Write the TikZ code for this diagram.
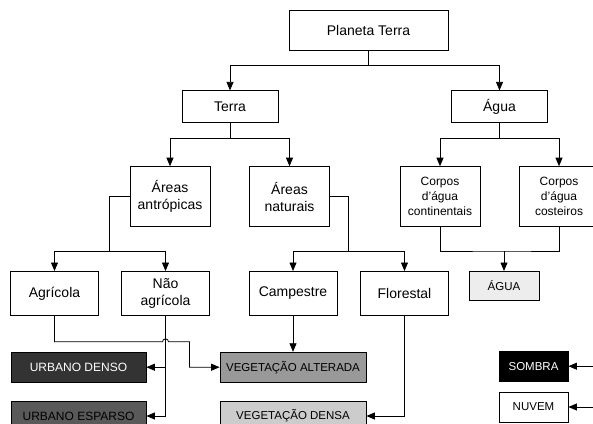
\documentclass[tikz,border=0pt]{standalone}
\usepackage{fontspec}
\setmainfont{Liberation Sans}
\usetikzlibrary{positioning}
\usetikzlibrary{arrows.meta}
\usetikzlibrary{calc}
\tikzset{%
	% Specifications for style of nodes:
	base/.style = {rectangle, draw=black, line width=0.8pt, fill=white,
		inner sep=2pt, align=center,
		text centered, font=\fontsize{14pt}{17pt}\selectfont},
	level/.style = {base, minimum width=96pt, minimum height=32pt},
	group/.style = {base, minimum width=80pt, minimum height=60pt},
	water/.style = {group, font=\fontsize{12pt}{15pt}\selectfont},
	leaf/.style = {base, minimum width=88pt, minimum height=44pt},
	classe/.style = {base, minimum height=30pt, font=\fontsize{11.5pt}{14pt}\selectfont},
	urbano/.style = {classe, minimum width=135pt, font=\fontsize{12pt}{14pt}\selectfont},
	% Specifications for style of connectors:
	wire/.style = {line width=0.8pt},
	link/.style = {wire, -{Triangle[length=8.5pt, width=7pt]}}
}

\begin{document}
\begin{tikzpicture}
		\useasboundingbox (0,0) rectangle (593pt,-423pt);
		\node (planeta) [base, minimum width=159pt, minimum height=40pt] at (368.5pt,-30pt) {Planeta Terra};
		\node (terra) [level, below=40pt of planeta, xshift=-138.5pt] {Terra};
		\node (agua) [level, below=40pt of planeta, xshift=131pt] {Água};
		\draw[link] (planeta.south) -- ++(0,-15pt) -| (terra.north);
		\draw[link] (planeta.south) -- ++(0,-15pt) -| (agua.north);
		
		\node (antropicas) [group, below=43pt of terra, xshift=-60pt] {Áreas\\antrópicas};
		\node (naturais) [group, below=43pt of terra, xshift=59.5pt] {Áreas\\naturais};
		\node (continentais) [water, below=43pt of agua, xshift=-59.5pt] {Corpos\\d'água\\continentais};
		\node (costeiros) [water, below=43pt of agua, xshift=59.5pt] {Corpos\\d'água\\costeiros};
		\draw[link] (terra.south) -- ++(0,-15pt) -| (antropicas.north);
		\draw[link] (terra.south) -- ++(0,-15pt) -| (naturais.north);
		\draw[link] (agua.south) -- ++(0,-15pt) -| (continentais.north);
		\draw[link] (agua.south) -- ++(0,-15pt) -| (costeiros.north);
		
		\node (agricola) [leaf, below=44pt of antropicas, xshift=-115.5pt] {Agrícola};
		\node (naoAgricola) [leaf, below=44pt of antropicas, xshift=-4.5pt] {Não\\agrícola};
		\node (campestre) [leaf, below=44pt of naturais, xshift=3.5pt] {Campestre};
		\node (florestal) [leaf, below=44pt of naturais, xshift=115pt] {Florestal};
		\node (aguaClasse) [classe, fill=black!7, minimum width=70pt, minimum height=29pt, below=44pt of continentais, xshift=64pt] {ÁGUA};
		
		\path let
			\p1 = (antropicas.west),
			\p2 = (agricola.north)
		in
			coordinate (antropicasBus) at (\x1 - 20pt, \y2 + 20pt);
		\draw[wire] (antropicas.west) -| (antropicasBus);
		\draw[link] (antropicasBus) -| (agricola.north);
		\draw[link] (antropicasBus) -| (naoAgricola.north);
		\path let
			\p1 = (naturais.east),
			\p2 = (campestre.north)
		in
			coordinate (naturaisBus) at (\x1 + 18.5pt, \y2 + 20pt);
		\draw[wire] (naturais.east) -| (naturaisBus);
		\draw[link] (naturaisBus) -| (campestre.north);
		\draw[link] (naturaisBus) -| (florestal.north);
		\path let
			\p1 = (aguaClasse.north)
		in
			coordinate (aguaBus) at (\x1, \y1 + 20pt);
		\draw[wire] (continentais.south) |- (aguaBus) -| (costeiros.south);
		\draw[link] (aguaBus) -- (aguaClasse.north);
		
		\node (urbanoDenso) [urbano, fill=black!80, text=white, below=36pt of agricola, xshift=24pt] {URBANO DENSO};
		\node (urbanoEsparso) [urbano, fill=black!65, below=18pt of urbanoDenso] {URBANO ESPARSO};
		\node (vegAlterada) [classe, fill=black!40, minimum width=146pt, below=36pt of campestre] {VEGETAÇÃO ALTERADA};
		\node (vegDensa) [classe, fill=black!20, minimum width=146pt, below=18pt of vegAlterada] {VEGETAÇÃO DENSA};
		\node (sombra) [classe, fill=black, text=white, minimum width=69pt, below=50pt of aguaClasse, xshift=29.5pt] {SOMBRA};
		\node (nuvem) [classe, minimum width=69pt, below=10pt of sombra] {NUVEM};
		
		\path let
			\p1 = (naoAgricola.south),
			\p2 = (agricola.south)
		in
			coordinate (hop) at (\x1, \y2 - 26pt);
		\draw[link] (agricola.south) |- ([xshift=-3pt]hop) arc[start angle=180, end angle=0, radius=3pt] -- ([xshift=24pt]hop) |- (vegAlterada.west);
		\draw[link] (naoAgricola.south) |- (urbanoEsparso.east);
		\draw[link] (naoAgricola.south |- urbanoDenso.east) -- (urbanoDenso.east);
		\draw[link] (campestre) -- (vegAlterada);
		\draw[link] (florestal.south) |- (vegDensa.east);
		\path (sombra.east) ++(25pt,0) coordinate (sombraFonte);
		\path (nuvem.east) ++(25pt,0) coordinate (nuvemFonte);
		\draw[link] (sombraFonte) -- (sombra.east);
		\draw[link] (nuvemFonte) -- (nuvem.east);
	\end{tikzpicture}
\end{document}
